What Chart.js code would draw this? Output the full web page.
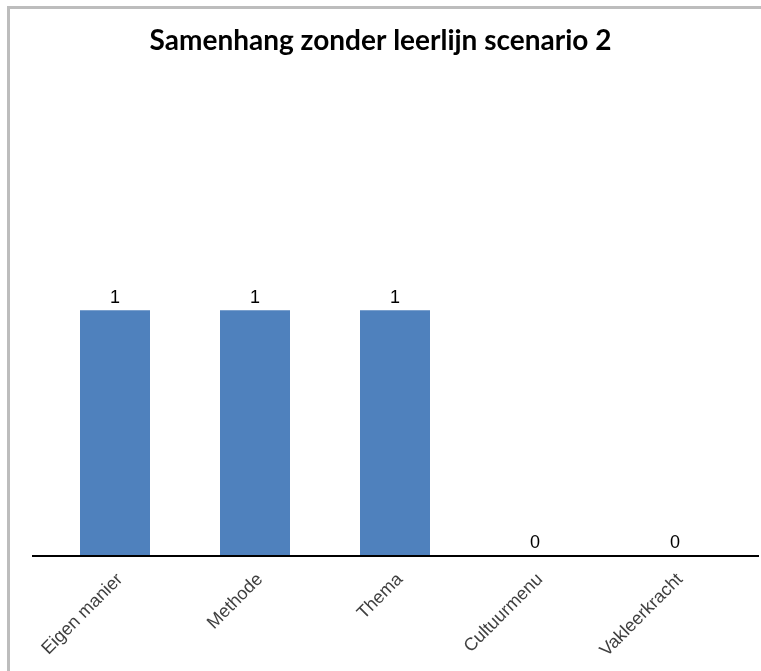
<!DOCTYPE html>
<html>
<head>
<meta charset="utf-8">
<script src="https://cdn.jsdelivr.net/npm/chart.js@4/dist/chart.umd.min.js"></script>
<style>
  html, body { margin: 0; padding: 0; background: #fff; overflow: hidden; }
  #wrap { position: relative; width: 761px; height: 671px; overflow: hidden; }
  #frame { position: absolute; left: 7px; top: 6px; width: 760px; height: 670px;
           border-top: 3px solid #bdbdbd; border-left: 3px solid #bdbdbd; }
  canvas { position: absolute; left: 0; top: 0; }
</style>
</head>
<body>
<div id="wrap">
  <div id="frame"></div>
  <canvas id="c" width="761" height="671"></canvas>
</div>
<script>
const titleText = 'Samenhang zonder leerlijn scenario 2';
const categories = ['Eigen manier', 'Methode', 'Thema', 'Cultuurmenu', 'Vakleerkracht'];
const counts = [1, 1, 1, 0, 0];

// Value labels above each bar, placed from the bar elements themselves
const valueLabels = {
  id: 'valueLabels',
  afterDatasetsDraw(chart) {
    const ctx = chart.ctx;
    const meta = chart.getDatasetMeta(0);
    ctx.save();
    ctx.font = '18px "Liberation Sans", Arial, sans-serif';
    ctx.fillStyle = '#000';
    ctx.textAlign = 'center';
    ctx.textBaseline = 'bottom';
    meta.data.forEach((bar, i) => {
      ctx.fillText(String(counts[i]), bar.x, bar.y - 3);
    });
    ctx.restore();
  }
};

// Horizontal category axis line, running a little past the plot edges
const axisLine = {
  id: 'axisLine',
  afterDatasetsDraw(chart) {
    const ctx = chart.ctx;
    const y = chart.scales.y.getPixelForValue(0);
    ctx.save();
    ctx.strokeStyle = '#000';
    ctx.lineWidth = 2;
    ctx.beginPath();
    ctx.moveTo(chart.chartArea.left - 13, y + 1);
    ctx.lineTo(chart.chartArea.right + 14, y + 1);
    ctx.stroke();
    ctx.restore();
  }
};

new Chart(document.getElementById('c'), {
  type: 'bar',
  data: {
    labels: categories,
    datasets: [{
      data: counts,
      backgroundColor: '#4f81bd',
      borderWidth: 0,
      barPercentage: 0.5,
      categoryPercentage: 1.0
    }]
  },
  options: {
    responsive: false,
    animation: false,
    layout: { padding: { left: 16, right: 16, top: 0, bottom: 0 } },
    plugins: {
      legend: { display: false },
      tooltip: { enabled: false },
      title: {
        display: true,
        text: titleText,
        color: '#000',
        font: { family: 'Lato, "Open Sans", sans-serif', size: 28, weight: 'bold' },
        padding: { top: 24, bottom: 8 }
      }
    },
    scales: {
      x: {
        grid: { display: false },
        border: { display: false },
        ticks: {
          color: '#404040',
          font: { family: '"Liberation Sans", Arial, sans-serif', size: 18 },
          minRotation: 45,
          maxRotation: 45,
          padding: 6,
          labelOffset: 5
        },
        afterFit(scale) { scale.height = 116; }
      },
      y: {
        display: true,
        min: 0,
        max: 2,
        grid: { display: false },
        border: { display: false },
        ticks: { display: false },
        afterFit(scale) { scale.width = 29; }
      }
    }
  },
  plugins: [valueLabels, axisLine]
});
</script>
</body>
</html>
